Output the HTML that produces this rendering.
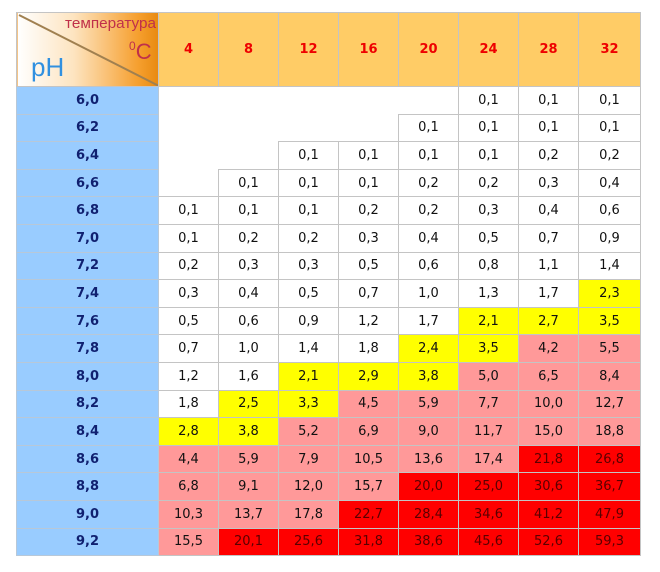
<!DOCTYPE html><html><head><meta charset="utf-8"><style>
body{margin:0;background:#fff;width:660px;height:572px;overflow:hidden}
table{position:absolute;left:16px;top:12px;border-collapse:collapse;table-layout:fixed;font-family:"DejaVu Sans",Verdana,sans-serif;font-size:13px}
td{border:1px solid #c4c4c4;text-align:center;padding:0;height:26.6px;color:#111}
tr.h td{height:73px;background:#ffcc66;color:#e00;font-weight:bold}
td.p{background:#99ccff;color:#102070;font-weight:bold;border-color:#b8c8d8}
td.e{border:none;background:#fff}
.Y{background:#ffff00}.P{background:#ff9999}.R{background:#ff0000;color:#5a0000!important}
.corner{position:relative;background:linear-gradient(90deg,#fff 0%,#fde4c0 40%,#f6a030 85%,#e88a10 100%)!important;overflow:hidden}
.corner text{font-weight:normal}
</style></head><body>
<table>
<colgroup><col style="width:142px"><col style="width:60px"><col style="width:60px"><col style="width:60px"><col style="width:60px"><col style="width:60px"><col style="width:60px"><col style="width:60px"><col style="width:62px"></colgroup>
<tr class="h"><td class="corner"><svg width="142" height="73" style="position:absolute;left:0;top:0"><line x1="2" y1="2" x2="142" y2="73" stroke="#a08050" stroke-width="2"/><text x="48" y="15" font-family="Liberation Sans,sans-serif" font-size="15" fill="#c0304a" textLength="91" lengthAdjust="spacingAndGlyphs">температура</text><text x="112" y="46" font-family="Liberation Sans,sans-serif" font-size="22" fill="#c0304a"><tspan font-size="12" dy="-9">0</tspan><tspan dy="9">C</tspan></text><text x="14" y="63" font-family="Liberation Sans,sans-serif" font-size="26" fill="#3090e0">pH</text></svg></td><td>4</td><td>8</td><td>12</td><td>16</td><td>20</td><td>24</td><td>28</td><td>32</td></tr>
<tr><td class="p">6,0</td><td class="e"></td><td class="e"></td><td class="e"></td><td class="e"></td><td class="e"></td><td>0,1</td><td>0,1</td><td>0,1</td></tr>
<tr><td class="p">6,2</td><td class="e"></td><td class="e"></td><td class="e"></td><td class="e"></td><td>0,1</td><td>0,1</td><td>0,1</td><td>0,1</td></tr>
<tr><td class="p">6,4</td><td class="e"></td><td class="e"></td><td>0,1</td><td>0,1</td><td>0,1</td><td>0,1</td><td>0,2</td><td>0,2</td></tr>
<tr><td class="p">6,6</td><td class="e"></td><td>0,1</td><td>0,1</td><td>0,1</td><td>0,2</td><td>0,2</td><td>0,3</td><td>0,4</td></tr>
<tr><td class="p">6,8</td><td>0,1</td><td>0,1</td><td>0,1</td><td>0,2</td><td>0,2</td><td>0,3</td><td>0,4</td><td>0,6</td></tr>
<tr><td class="p">7,0</td><td>0,1</td><td>0,2</td><td>0,2</td><td>0,3</td><td>0,4</td><td>0,5</td><td>0,7</td><td>0,9</td></tr>
<tr><td class="p">7,2</td><td>0,2</td><td>0,3</td><td>0,3</td><td>0,5</td><td>0,6</td><td>0,8</td><td>1,1</td><td>1,4</td></tr>
<tr><td class="p">7,4</td><td>0,3</td><td>0,4</td><td>0,5</td><td>0,7</td><td>1,0</td><td>1,3</td><td>1,7</td><td class="Y">2,3</td></tr>
<tr><td class="p">7,6</td><td>0,5</td><td>0,6</td><td>0,9</td><td>1,2</td><td>1,7</td><td class="Y">2,1</td><td class="Y">2,7</td><td class="Y">3,5</td></tr>
<tr><td class="p">7,8</td><td>0,7</td><td>1,0</td><td>1,4</td><td>1,8</td><td class="Y">2,4</td><td class="Y">3,5</td><td class="P">4,2</td><td class="P">5,5</td></tr>
<tr><td class="p">8,0</td><td>1,2</td><td>1,6</td><td class="Y">2,1</td><td class="Y">2,9</td><td class="Y">3,8</td><td class="P">5,0</td><td class="P">6,5</td><td class="P">8,4</td></tr>
<tr><td class="p">8,2</td><td>1,8</td><td class="Y">2,5</td><td class="Y">3,3</td><td class="P">4,5</td><td class="P">5,9</td><td class="P">7,7</td><td class="P">10,0</td><td class="P">12,7</td></tr>
<tr><td class="p">8,4</td><td class="Y">2,8</td><td class="Y">3,8</td><td class="P">5,2</td><td class="P">6,9</td><td class="P">9,0</td><td class="P">11,7</td><td class="P">15,0</td><td class="P">18,8</td></tr>
<tr><td class="p">8,6</td><td class="P">4,4</td><td class="P">5,9</td><td class="P">7,9</td><td class="P">10,5</td><td class="P">13,6</td><td class="P">17,4</td><td class="R">21,8</td><td class="R">26,8</td></tr>
<tr><td class="p">8,8</td><td class="P">6,8</td><td class="P">9,1</td><td class="P">12,0</td><td class="P">15,7</td><td class="R">20,0</td><td class="R">25,0</td><td class="R">30,6</td><td class="R">36,7</td></tr>
<tr><td class="p">9,0</td><td class="P">10,3</td><td class="P">13,7</td><td class="P">17,8</td><td class="R">22,7</td><td class="R">28,4</td><td class="R">34,6</td><td class="R">41,2</td><td class="R">47,9</td></tr>
<tr><td class="p">9,2</td><td class="P">15,5</td><td class="R">20,1</td><td class="R">25,6</td><td class="R">31,8</td><td class="R">38,6</td><td class="R">45,6</td><td class="R">52,6</td><td class="R">59,3</td></tr>
</table>
</body></html>
